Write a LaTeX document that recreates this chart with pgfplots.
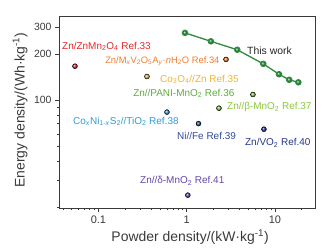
\documentclass[border=0pt]{standalone}
\usepackage{fontspec}
\setmainfont{Liberation Sans}
\usepackage{pgfplots}
\pgfplotsset{compat=1.18}
\definecolor{cR}{HTML}{E8262B}
\definecolor{cO}{HTML}{F07E2E}
\definecolor{cY}{HTML}{F2B431}
\definecolor{cGa}{HTML}{5FAD3E}
\definecolor{cGb}{HTML}{8DC63F}
\definecolor{cBa}{HTML}{2E9BD6}
\definecolor{cBb}{HTML}{2F4A9A}
\definecolor{cBc}{HTML}{26368A}
\definecolor{cP}{HTML}{6248A8}
\definecolor{cW}{HTML}{2E8B3D}
\definecolor{axc}{HTML}{3A3A3A}
\begin{document}
\begin{tikzpicture}
\begin{axis}[
  name=ax, at={(0,0)}, anchor=south west,
  scale only axis, width=256bp, height=192bp,
  xmode=log, ymode=log,
  xmin=0.0358, xmax=28.4, ymin=19.7, ymax=356,
  xtick={0.1,1,10}, xticklabels={0.1,1,10},
  ytick={100,200,300}, yticklabels={100,200,300},
  minor xtick={0.04,0.05,0.06,0.07,0.08,0.09,0.2,0.3,0.4,0.5,0.6,0.7,0.8,0.9,2,3,4,5,6,7,8,9,20},
  minor ytick={20,30,40,50,60,70,80,90},
  tick align=outside, xtick pos=bottom, ytick pos=left,
  major tick length=4bp, minor tick length=2.5bp,
  tick style={axc, line width=0.8bp},
  axis line style={axc, line width=0.9bp},
  /pgf/number format/assume math mode=true,
  xticklabel style={font=\fontsize{11}{13}\selectfont, text=axc},
  yticklabel style={font=\fontsize{10.5}{12}\selectfont, text=axc},
  xlabel={Powder density/(kW·kg\textsuperscript{-1})},
  ylabel={Energy density/(Wh·kg\textsuperscript{-1})},
  label style={font=\fontsize{14}{16}\selectfont, text=axc},
  xlabel style={at={(axis description cs:0.512,-0.151)}, anchor=center},
  ylabel style={at={(axis description cs:-0.152,0.51)}, anchor=center},
  clip=false,
]
\addplot[color=cW, line width=1.3bp, mark=ball, mark size=2.6bp, mark options={ball color=cW}]
  coordinates {(0.957,276) (1.88,243) (3.74,214) (7.37,173) (11.1,148) (14.5,136) (18.4,131)};
\addplot[only marks, mark=ball, mark size=2.5bp, mark options={ball color=cR}] coordinates {(0.0543,167)};
\addplot[only marks, mark=ball, mark size=2.5bp, mark options={ball color=cO}] coordinates {(2.79,185)};
\addplot[only marks, mark=ball, mark size=2.5bp, mark options={ball color=cY}] coordinates {(0.355,143)};
\addplot[only marks, mark=ball, mark size=2.5bp, mark options={ball color=cGb}] coordinates {(5.63,109)};
\addplot[only marks, mark=ball, mark size=2.5bp, mark options={ball color=cGb}] coordinates {(2.32,88.7)};
\addplot[only marks, mark=ball, mark size=2.5bp, mark options={ball color=cBa}] coordinates {(0.598,83.6)};
\addplot[only marks, mark=ball, mark size=2.5bp, mark options={ball color=cBb}] coordinates {(1.36,70.3)};
\addplot[only marks, mark=ball, mark size=2.5bp, mark options={ball color=cBc}] coordinates {(7.5,64.6)};
\addplot[only marks, mark=ball, mark size=2.5bp, mark options={ball color=cP}] coordinates {(1.03,23.9)};
\begin{scope}[every node/.style={anchor=west, inner sep=0pt, font=\fontsize{10}{12}\selectfont}]
\node[text=cR] at (axis cs:0.0387,225) {Zn/ZnMn\textsubscript{2}O\textsubscript{4} Ref.33};
\node[text=cO, font=\fontsize{9.4}{11}\selectfont] at (axis cs:0.119,180) {Zn/M\textsubscript{\textit{x}}V\textsubscript{2}O\textsubscript{5}A\textsubscript{\textit{y}}·\textit{n}H\textsubscript{2}O Ref.34};
\node[text=cY] at (axis cs:0.499,137) {Co\textsubscript{3}O\textsubscript{4}//Zn Ref.35};
\node[text=cGa] at (axis cs:0.247,111) {Zn//PANI-MnO\textsubscript{2} Ref.36};
\node[text=cGb] at (axis cs:2.86,90) {Zn//β-MnO\textsubscript{2} Ref.37};
\node[text=cBa] at (axis cs:0.0515,72.9) {Co\textsubscript{\textit{x}}Ni\textsubscript{1-\textit{x}}S\textsubscript{2}//TiO\textsubscript{2} Ref.38};
\node[text=cBb] at (axis cs:0.777,58.2) {Ni//Fe Ref.39};
\node[text=cBc] at (axis cs:4.57,52.4) {Zn/VO\textsubscript{2} Ref.40};
\node[text=cP] at (axis cs:0.296,29.6) {Zn//δ-MnO\textsubscript{2} Ref.41};
\node[text=black!85, font=\fontsize{10.5}{12}\selectfont] at (axis cs:4.82,212) {This work};
\end{scope}
\end{axis}
\pgfresetboundingbox
\useasboundingbox (-59bp,-43bp) rectangle (276bp,208bp);
\end{tikzpicture}
\end{document}
